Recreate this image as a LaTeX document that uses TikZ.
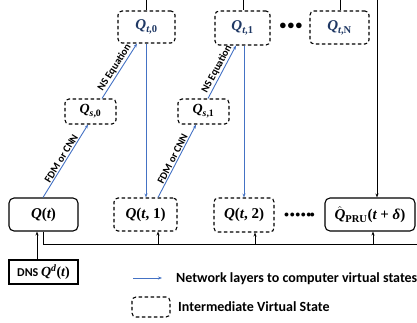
\documentclass[tikz,border=0pt]{standalone}
\usepackage{fontspec}
\setmainfont{Carlito}
\newfontfamily\qfont{Liberation Serif}
\usepackage{amsmath}
\usetikzlibrary{arrows.meta}
\newcommand{\qi}[1]{\text{\qfont\bfseries\itshape #1}}
\newcommand{\qr}[1]{\text{\qfont\bfseries #1}}
\definecolor{lblue}{HTML}{4472C4}
\definecolor{navy}{HTML}{1F3864}
\tikzset{
  vstate/.style={draw, dashed, dash pattern=on 3.5pt off 2.5pt, line width=1.1pt, rounded corners=4pt, inner sep=0pt, align=center},
  sstate/.style={draw, line width=1.1pt, rounded corners=5pt, inner sep=0pt, align=center},
  dnsbox/.style={draw, line width=1.1pt, inner sep=0pt},
  blarrow/.style={draw=lblue, line width=0.9pt, -{Stealth[length=4pt,width=3pt]}},
  bkarrow/.style={draw, line width=1pt, -{Stealth[length=4pt,width=3pt]}},
  bkline/.style={draw, line width=1pt},
  slab/.style={font=\bfseries\fontsize{10.5}{12}\selectfont, inner sep=1pt},
  qtop/.style={font=\fontsize{15}{17}\selectfont, text=navy},
  qmid/.style={font=\fontsize{14}{16}\selectfont},
  qbot/.style={font=\fontsize{15}{17}\selectfont},
  legtext/.style={font=\bfseries\fontsize{14}{16}\selectfont, anchor=west, inner sep=0pt}
}
\begin{document}
\begin{tikzpicture}[x=1pt,y=-1pt]
\useasboundingbox (0,0) rectangle (417,323);
% top row
\node[vstate, qtop, minimum width=57pt, minimum height=32pt] (qt0) at (146.5,27) {$\qi{Q}_{\qi{t}\qr{,0}}$};
\node[vstate, qtop, minimum width=55pt, minimum height=34pt] (qt1) at (242.5,28) {$\qi{Q}_{\qi{t}\qr{,1}}$};
\node[vstate, qtop, minimum width=59pt, minimum height=33pt] (qtn) at (339.5,27.5) {$\qi{Q}_{\qi{t}\qr{,N}}$};
\node[font=\Large] (dtop) at (291,26) {$\bullet\!\bullet\!\bullet$};
% middle row
\node[vstate, qmid, minimum width=51pt, minimum height=25pt] (qs0) at (90.5,111.5) {$\qi{Q}_{\qi{s}\qr{,0}}$};
\node[vstate, qmid, minimum width=51pt, minimum height=25pt] (qs1) at (203.5,111.5) {$\qi{Q}_{\qi{s}\qr{,1}}$};
% bottom row
\node[sstate, qbot, minimum width=69pt, minimum height=33pt] (q) at (43.5,214.5) {$\qi{Q}\qr{(}\qi{t}\qr{)}$};
\node[vstate, qbot, minimum width=63pt, minimum height=33pt] (qa) at (145.5,214.5) {$\qi{Q}\qr{(}\qi{t}\qr{, 1)}$};
\node[vstate, qbot, minimum width=60pt, minimum height=34pt] (qb) at (244,215) {$\qi{Q}\qr{(}\qi{t}\qr{, 2)}$};
\node[sstate, qbot, minimum width=90pt, minimum height=33pt] (qp) at (370,214.5) {$\hat{\qi{Q}}_{\qr{PRU}}\qr{(}\qi{t}\qr{ + }\qi{δ}\qr{)}$};
\node (dbot) at (299.5,215) {$\bullet\!\bullet\!\bullet\!\bullet\!\bullet\!\bullet$};
\node[dnsbox, minimum width=69pt, minimum height=24pt, font=\bfseries\fontsize{12}{14}\selectfont] (dns) at (43.5,272) {DNS {\fontsize{14}{16}\selectfont$\qi{Q}^{\qi{d}}\qr{(}\qi{t}\qr{)}$}};
% top connectors
\coordinate (t0) at (146,0);
\coordinate (t1) at (243,0);
\coordinate (tn) at (340,0);
\coordinate (tr) at (377,0);
\draw[bkline] (t0) -- (qt0.north -| t0);
\draw[bkline] (t1) -- (qt1.north -| t1);
\draw[bkline] (tn) -- (qtn.north -| tn);
\draw[bkline] (146,-0.4) -- (377,-0.4);
\draw[bkarrow] (tr) -- (qp.north -| tr);
% blue vertical
\draw[blarrow] (qt0.south -| 146,0) -- (qa.north -| 146,0);
\draw[blarrow] (qt1.south -| 244,0) -- (qb.north -| 244,0);
% diagonals
\draw[blarrow] (q.north -| 43,0) -- node[slab, midway, sloped, above] {FDM or CNN} (qs0.south -| 88,0);
\draw[blarrow] (qs0.north -| 102,0) -- node[slab, midway, sloped, above] {NS Equation} (qt0.south -| 137,0);
\draw[blarrow] (qa.north -| 158,0) -- node[slab, midway, sloped, above] {FDM or CNN} (qs1.south -| 196,0);
\draw[blarrow] (qs1.north -| 208,0) -- node[slab, midway, sloped, above] {NS Equation} (qt1.south -| 236,0);
% bottom bus
\coordinate (bend) at (417,244);
\draw[bkline] (q.south -| 43,0) -- (43,244) -- (bend);
\draw[bkarrow] (158,244) -- (qa.south -| 158,0);
\draw[bkarrow] (255,244) -- (qb.south -| 255,0);
\draw[bkarrow] (373,244) -- (qp.south -| 373,0);
\draw[bkarrow] (dns.north -| 37,0) -- (q.south -| 37,0);
% legend
\coordinate (la) at (133,278);
\coordinate (lb) at (162,278);
\draw[blarrow] (la) -- (lb);
\node[legtext] (l1) at (176,279) {Network layers to computer virtual states};
\node[vstate, minimum width=38pt, minimum height=20pt] (lbox) at (151,307) {};
\node[legtext] (l2) at (178,307) {Intermediate Virtual State};
\end{tikzpicture}
\end{document}
